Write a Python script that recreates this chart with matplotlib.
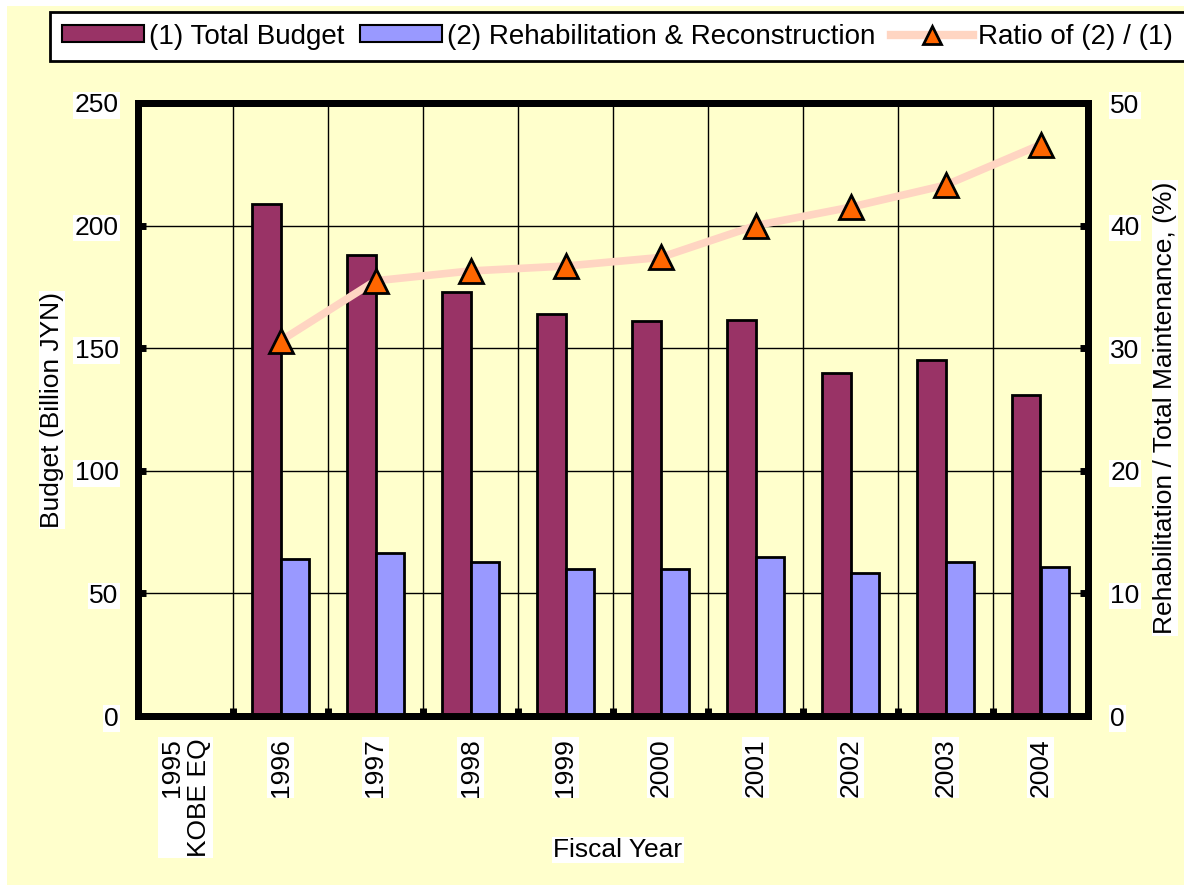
import matplotlib
matplotlib.use("Agg")
import matplotlib.pyplot as plt
from matplotlib.patches import Rectangle, Patch
from matplotlib.lines import Line2D
import numpy as np

plt.rcParams['font.family'] = ['Liberation Sans', 'DejaVu Sans']

years = ["1995\nKOBE EQ", "1996", "1997", "1998", "1999", "2000",
         "2001", "2002", "2003", "2004"]
total_budget = [np.nan, 209, 188, 173, 164, 161, 161.5, 140, 145, 131]
rehab = [np.nan, 64, 66.5, 62.8, 60, 60, 64.8, 58.3, 62.8, 60.8]
ratio = [np.nan, 30.6, 35.5, 36.3, 36.7, 37.4, 40.0, 41.5, 43.3, 46.6]

BG = "#FFFFCC"
C_TOTAL = "#993366"
C_REHAB = "#9999FF"
C_LINE = "#FFD5C2"
C_MARK = "#FF6600"
FS = 19
WHITE_BOX = dict(facecolor="white", edgecolor="none", pad=1)

fig = plt.figure(figsize=(11.84, 8.86), dpi=100, facecolor="white")
fig.patches.append(Rectangle((7 / 1184, 1 / 886), 1 - 7 / 1184, 879 / 886,
                             transform=fig.transFigure, facecolor=BG,
                             edgecolor="none", zorder=-10))

ax = fig.add_axes([138 / 1184, 170 / 886, 950 / 1184, 613 / 886])
ax.set_facecolor(BG)
x = np.arange(len(years))
w = 0.295
ax.bar(x - w / 2, total_budget, w, color=C_TOTAL, edgecolor="black", lw=2, zorder=3)
ax.bar(x + w / 2, rehab, w, color=C_REHAB, edgecolor="black", lw=2, zorder=3)

ax.set_xlim(-0.5, len(years) - 0.5)
ax.set_ylim(0, 250)
ax.set_yticks(np.arange(0, 251, 50))
ax.set_xticks(np.arange(0.5, len(years) - 0.5, 1))
ax.set_xticklabels([])
ax.set_xticks(x, minor=True)
ax.set_xticklabels(years, minor=True, rotation=90, va="top", ha="center",
                   multialignment="right", fontsize=FS)
ax.tick_params(axis="x", which="minor", length=0, pad=16)
ax.tick_params(axis="x", which="major", direction="in", length=6, width=5)
ax.tick_params(axis="y", direction="in", length=6, width=5, labelsize=FS, pad=14)
ax.grid(True, which="major", color="black", lw=1, zorder=1)
for sp in ax.spines.values():
    sp.set_linewidth(5)

ax2 = ax.twinx()
ax2.plot(x, ratio, color=C_LINE, lw=5.5, zorder=4, solid_capstyle="round")
ax2.plot(x, ratio, ls="none", marker="^", ms=17, mfc=C_MARK, mec="black",
         mew=2, zorder=5)
ax2.set_ylim(0, 50)
ax2.set_yticks(np.arange(0, 51, 10))
ax2.tick_params(axis="y", direction="in", length=6, width=5, labelsize=FS, pad=16)
for sp in ax2.spines.values():
    sp.set_linewidth(5)

for lab in ax.get_yticklabels() + ax2.get_yticklabels() + \
        ax.get_xticklabels(minor=True):
    lab.set_bbox(WHITE_BOX)

fig.text(52 / 1184, 1 - 410 / 886, "Budget (Billion JYN)", rotation=90,
         ha="center", va="center", fontsize=FS, bbox=WHITE_BOX)
fig.text(1165 / 1184, 1 - 408 / 886, "Rehabilitation / Total Maintenance, (%)",
         rotation=90, ha="center", va="center", fontsize=FS, bbox=WHITE_BOX)
fig.text(618 / 1184, 1 - 850 / 886, "Fiscal Year", ha="center", va="center",
         fontsize=FS, bbox=WHITE_BOX)

handles = [Patch(facecolor=C_TOTAL, edgecolor="black", lw=1.5),
           Patch(facecolor=C_REHAB, edgecolor="black", lw=1.5),
           Line2D([], [], color=C_LINE, lw=6, marker="^", ms=13,
                  mfc=C_MARK, mec="black", mew=2)]
labels = ["(1) Total Budget", "(2) Rehabilitation & Reconstruction",
          "Ratio of (2) / (1)"]
leg = fig.legend(handles, labels, loc="upper left", ncol=3,
                 bbox_to_anchor=(50 / 1184, 1 - 12 / 886), fontsize=20,
                 frameon=True, fancybox=False, edgecolor="black",
                 handlelength=2.95, handleheight=0.55, handletextpad=0.2,
                 columnspacing=0.55, borderpad=0.42, borderaxespad=0)
leg.get_frame().set_linewidth(2)
leg.get_frame().set_facecolor("white")
leg.get_frame().set_alpha(1)

fig.savefig("out.png", dpi=100, facecolor="white")
